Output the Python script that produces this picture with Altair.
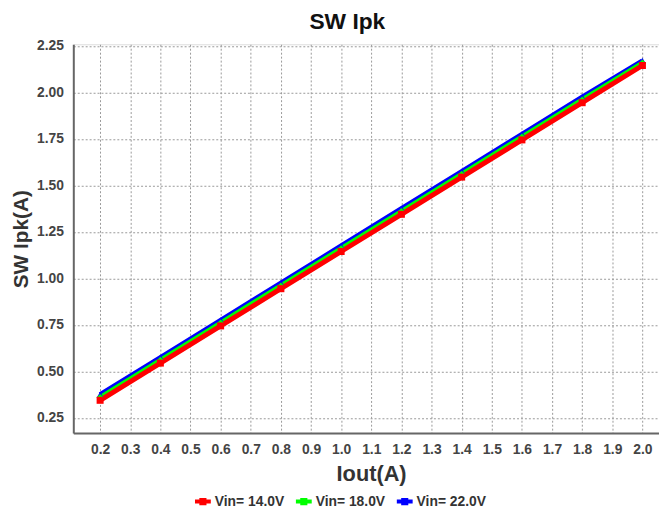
import altair as alt
import pandas as pd

iout = [0.2, 0.4, 0.6, 0.8, 1.0, 1.2, 1.4, 1.6, 1.8, 2.0]
vin14 = [0.345, 0.545, 0.745, 0.945, 1.145, 1.345, 1.545, 1.745, 1.945, 2.145]
vin18 = [0.360, 0.560, 0.760, 0.960, 1.160, 1.360, 1.560, 1.760, 1.960, 2.158]
vin22 = [0.375, 0.575, 0.775, 0.975, 1.175, 1.375, 1.575, 1.775, 1.975, 2.170]
series = ["Vin= 14.0V", "Vin= 18.0V", "Vin= 22.0V"]
colors = ["#ff0000", "#00ff00", "#0000ff"]
x_ticks = [0.2, 0.3, 0.4, 0.5, 0.6, 0.7, 0.8, 0.9, 1.0, 1.1, 1.2, 1.3, 1.4, 1.5, 1.6, 1.7, 1.8, 1.9, 2.0]
y_ticks = [0.25, 0.5, 0.75, 1.0, 1.25, 1.5, 1.75, 2.0, 2.25]

# rows for the higher-voltage series first so that the 14.0V line is drawn on top
rows = []
for name, vals in reversed(list(zip(series, [vin14, vin18, vin22]))):
    for x, y in zip(iout, vals):
        rows.append({"Iout": x, "Ipk": y, "Vin": name, "Marker": name})
df = pd.DataFrame(rows)

FONT = "Liberation Sans"

xscale = alt.Scale(domain=[0.111, 2.055], nice=False, zero=False)
yscale = alt.Scale(domain=[0.1686, 2.259], nice=False, zero=False)

xaxis = alt.Axis(values=x_ticks, format=".1f", title="Iout(A)", labelFontSize=14,
                 labelFont=FONT, labelFontWeight="bold", labelColor="#444",
                 titleFontSize=22, titleFont=FONT, titleFontWeight="bold", titleColor="#333",
                 labelPadding=10, titlePadding=7, ticks=False, domainColor="#666",
                 domainWidth=2, grid=True, gridColor="#999", gridDash=[2, 2], gridWidth=1,
                 labelFlush=False, labelOverlap=False, titleX=301, titleAlign="center")
yaxis = alt.Axis(values=y_ticks, format=".2f", title="SW Ipk(A)", labelFontSize=14,
                 labelFont=FONT, labelFontWeight="bold", labelColor="#444",
                 titleFontSize=21, titleFont=FONT, titleFontWeight="bold", titleColor="#333",
                 labelPadding=10, titleX=-42, titleBaseline="bottom", ticks=False,
                 domainColor="#666",
                 domainWidth=2, grid=True, gridColor="#999", gridDash=[2, 2], gridWidth=1,
                 labelFlush=False, labelOverlap=False)

legend_path = "M-1,0H1M-0.2,-0.2H0.2V0.2H-0.2Z"

base = alt.Chart(df)
lines = base.mark_line(strokeWidth=5).encode(
    x=alt.X("Iout:Q", scale=xscale, axis=xaxis),
    y=alt.Y("Ipk:Q", scale=yscale, axis=yaxis),
    color=alt.Color("Vin:N", scale=alt.Scale(domain=series, range=colors),
                    legend=alt.Legend(title=None, orient="none", direction="horizontal",
                                      legendX=121, legendY=452,
                                      symbolType=legend_path, symbolSize=256,
                                      symbolStrokeWidth=4, labelFont=FONT,
                                      labelFontWeight="bold", labelFontSize=14,
                                      labelColor="#333", columnPadding=3,
                                      labelOffset=2)),
)
points = base.mark_point(filled=True, size=50, opacity=1).encode(
    x=alt.X("Iout:Q", scale=xscale, axis=xaxis),
    y=alt.Y("Ipk:Q", scale=yscale, axis=yaxis),
    color=alt.Color("Marker:N", scale=alt.Scale(domain=series, range=colors), legend=None),
    shape=alt.Shape("Marker:N", scale=alt.Scale(domain=series, range=["square", "diamond", "triangle-up"]), legend=None),
)

chart = alt.layer(lines, points).resolve_scale(
    color="independent", shape="independent"
).resolve_legend(color="independent", shape="independent").properties(
    width=592, height=393,
    title=alt.TitleParams("SW Ipk", fontSize=23, font=FONT, fontWeight="bold",
                          color="#111", anchor="middle", dx=-19, offset=5),
    autosize=alt.AutoSizeParams(type="none"),
    padding={"left": 66, "top": 34, "right": 0, "bottom": 73},
).configure_view(stroke="#777", strokeWidth=2).configure(background="white")

chart.save("out.html", embed_options={"renderer": "svg", "actions": False})
